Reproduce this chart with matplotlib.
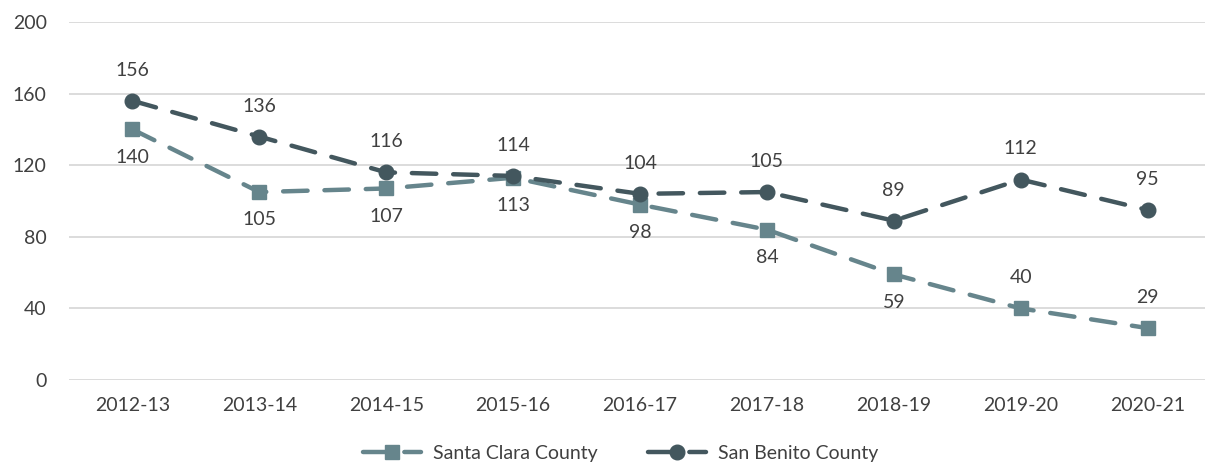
import matplotlib
matplotlib.use("Agg")
from matplotlib import pyplot as plt

years = ["2012-13", "2013-14", "2014-15", "2015-16", "2016-17",
         "2017-18", "2018-19", "2019-20", "2020-21"]
santaClara = [140, 105, 107, 113, 98, 84, 59, 40, 29]
sanBenito = [156, 136, 116, 114, 104, 105, 89, 112, 95]
# which Santa Clara labels sit above the point
santaClaraAbove = [False, False, False, False, False, False, False, True, True]

clrSC = "#66858c"
clrSB = "#43575e"
txt = "#404040"

plt.rcParams['font.family'] = ['Lato', 'DejaVu Sans']

fig = plt.figure(figsize=(12.05, 4.75), dpi=100)
ax = fig.add_axes([69 / 1205, 95 / 475, (1211 - 69) / 1205, 358 / 475])

x = list(range(len(years)))
ax.plot(x, santaClara, color=clrSC, lw=3.2, ls=(0, (5.5, 3.8)), dash_capstyle='round',
        marker='s', ms=9.5, label="Santa Clara County", zorder=3)
ax.plot(x, sanBenito, color=clrSB, lw=3.2, ls=(0, (5.5, 3.8)), dash_capstyle='round',
        marker='o', ms=10.5, label="San Benito County", zorder=4)

for i in x:
    ax.annotate(str(sanBenito[i]), (i, sanBenito[i]), xytext=(0, 22), textcoords='offset points',
                ha='center', va='center', fontsize=14, color=txt)
    dy = 22 if santaClaraAbove[i] else -20
    ax.annotate(str(santaClara[i]), (i, santaClara[i]), xytext=(0, dy), textcoords='offset points',
                ha='center', va='center', fontsize=14, color=txt)

ax.set_xlim(-0.5, 8.5)
ax.set_ylim(0, 200)
ax.set_yticks([0, 40, 80, 120, 160, 200])
ax.set_xticks(x)
ax.set_xticklabels(years)
ax.grid(axis='y', color='#d9d9d9', lw=1.3)
ax.set_axisbelow(True)
for s in ax.spines.values():
    s.set_visible(False)
ax.tick_params(length=0, labelsize=14, labelcolor=txt)
ax.tick_params(axis='y', pad=16)
ax.tick_params(axis='x', pad=12)

fig.legend(loc='lower center', bbox_to_anchor=(0.515, -0.01), ncol=2, frameon=False,
           fontsize=14, labelcolor=txt, handlelength=3.0, handletextpad=0.6, columnspacing=2.6)

fig.savefig("out.png", dpi=100)
